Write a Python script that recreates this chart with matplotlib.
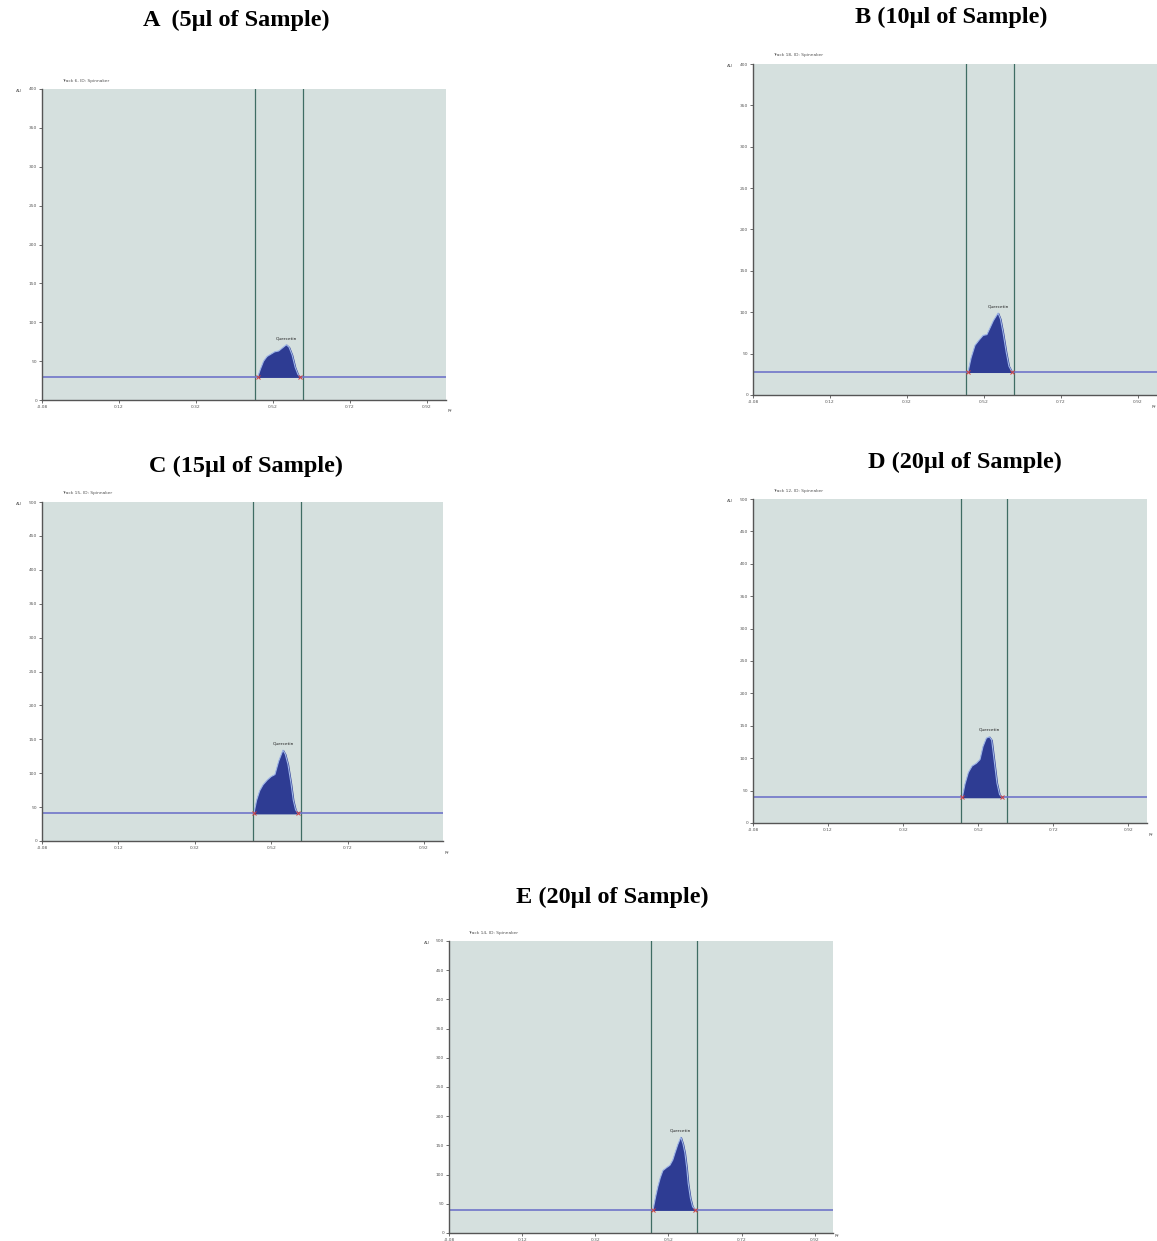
import matplotlib.pyplot as plt
import numpy as np

# densitogrammes (Rf, AU)
titres = ["A  (5µl of Sample)", "B (10µl of Sample)", "C (15µl of Sample)",
          "D (20µl of Sample)", "E (20µl of Sample)"]
pistes = ["Track 6, ID: Spinnaker", "Track 18, ID: Spinnaker", "Track 15, ID: Spinnaker",
          "Track 12, ID: Spinnaker", "Track 14, ID: Spinnaker"]

rf_A = [0.481, 0.488, 0.496, 0.505, 0.515, 0.525, 0.535, 0.545, 0.555, 0.562, 0.570, 0.578, 0.585, 0.590]
au_A = [30, 40, 50, 56, 59, 62, 63, 67, 71, 68, 58, 42, 33, 30]

rf_B = [0.479, 0.487, 0.497, 0.507, 0.518, 0.528, 0.535, 0.545, 0.557, 0.563, 0.570, 0.578, 0.585, 0.593]
au_B = [28, 45, 60, 66, 72, 73, 80, 90, 99, 92, 75, 52, 35, 28]

rf_C = [0.475, 0.482, 0.490, 0.499, 0.510, 0.520, 0.530, 0.540, 0.551, 0.557, 0.564, 0.572, 0.578, 0.584, 0.590]
au_C = [41, 60, 74, 83, 90, 95, 98, 118, 134, 128, 113, 85, 60, 46, 41]

rf_D = [0.478, 0.485, 0.494, 0.504, 0.515, 0.525, 0.533, 0.542, 0.550, 0.556, 0.562, 0.570, 0.577, 0.583]
au_D = [40, 60, 78, 88, 92, 98, 118, 131, 133, 128, 100, 62, 44, 40]

rf_E = [0.478, 0.485, 0.491, 0.498, 0.505, 0.515, 0.524, 0.532, 0.538, 0.546, 0.554, 0.560, 0.565,
        0.570, 0.574, 0.580, 0.586, 0.593]
au_E = [40, 62, 79, 95, 107, 112, 116, 125, 137, 152, 164, 152, 137, 112, 85, 60, 45, 40]

lignes_base = [30, 28, 41, 40, 40]
ymax = [400, 400, 500, 500, 500]
xticks = [-0.08, 0.12, 0.32, 0.52, 0.72, 0.92]
bornes = [0.473, 0.598]  # traits verticaux de la zone d'integration

# positions en pixels (gauche, droite, haut, bas)
cadres = [(42, 446, 89, 400), (753, 1157, 64, 395), (42, 443, 502, 841),
          (753, 1147, 499, 823), (449, 833, 941, 1233)]
pos_titres = [(236, 20), (951, 17), (246, 466), (965, 462), (612, 897)]

W, H = 1157, 1241
fig = plt.figure(figsize=(W / 100, H / 100), dpi=100)
fig.patch.set_facecolor('white')

donnees = [(rf_A, au_A), (rf_B, au_B), (rf_C, au_C), (rf_D, au_D), (rf_E, au_E)]

for i in range(5):
    g, d, h, b = cadres[i]
    ax = fig.add_axes([g / W, 1 - b / H, (d - g) / W, (b - h) / H])
    ax.set_facecolor('#d5e0de')
    rf, au = donnees[i]
    base = lignes_base[i]
    ax.set_xlim(-0.08, 0.97)
    ax.set_ylim(0, ymax[i])
    ax.axhline(base, color='#6f74c9', lw=1.2, zorder=2)
    ax.fill_between(rf, base, au, color='#2e3c93', zorder=3)
    ax.plot(rf, au, color='#9fb6e8', lw=0.8, zorder=3)
    for xb in bornes:
        ax.axvline(xb, color='#3f6d64', lw=0.9, zorder=1)
    ax.plot([rf[0], rf[-1]], [base, base], 'x', color='#d04040', ms=2.5, mew=0.7, zorder=4)
    k = int(np.argmax(au))
    ax.text(rf[k], au[k] + ymax[i] * 0.015, "Quercetin", fontsize=3.2, ha='center', va='bottom', color='#222')
    ax.set_xticks(xticks)
    ax.set_xticklabels(["%.2f" % v for v in xticks], fontsize=3.2, color='#555')
    yt = np.arange(0, ymax[i] + 1, 50)
    ax.set_yticks(yt)
    ax.set_yticklabels([str(v) for v in yt], fontsize=3.2, color='#555')
    ax.tick_params(length=2.5, width=0.6, color='#555', pad=1)
    for s in ['left', 'bottom']:
        ax.spines[s].set_color('#555')
        ax.spines[s].set_linewidth(1.0)
    for s in ['right', 'top']:
        ax.spines[s].set_visible(False)
    ax.text(-0.05, 1.0, "AU", transform=ax.transAxes, fontsize=3.2, color='#555', ha='right', va='top')
    if i == 1:
        ax.text(0.998, -0.03, "Rf", transform=ax.transAxes, fontsize=3.2, color='#555', ha='right', va='top')
    elif i == 4:
        ax.text(1.005, -0.005, "Rf", transform=ax.transAxes, fontsize=3.2, color='#555', ha='left', va='top')
    else:
        ax.text(1.005, -0.03, "Rf", transform=ax.transAxes, fontsize=3.2, color='#555', ha='left', va='top')
    ax.text(0.05, 1.02, pistes[i], transform=ax.transAxes, fontsize=3.2, color='#555', ha='left', va='bottom')
    tx, ty = pos_titres[i]
    fig.text(tx / W, 1 - ty / H, titres[i], fontsize=17.5, fontweight='bold', family='Liberation Serif',
             ha='center', va='center')

plt.savefig('out.png', dpi=100)
